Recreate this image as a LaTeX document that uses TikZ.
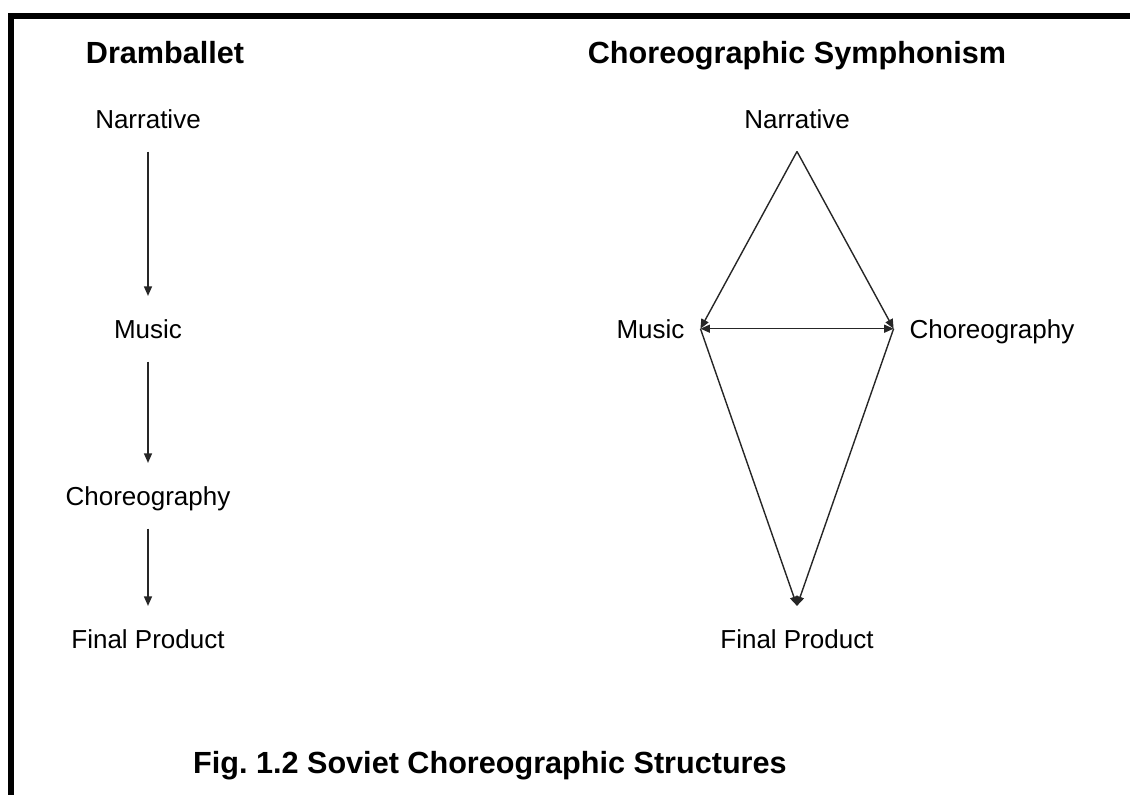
\documentclass[tikz,border=0pt]{standalone}
\usepackage{fontspec}
\setmainfont{Liberation Sans}
\usetikzlibrary{arrows.meta}
\frenchspacing
\tikzset{
  lbl/.style={font=\fontsize{26pt}{30pt}\selectfont, inner sep=0pt, text height=18.6pt, text depth=0pt, outer ysep=23.5pt, outer xsep=16pt, anchor=base},
  ttl/.style={font=\fontsize{30.6pt}{34pt}\selectfont\bfseries, inner sep=0pt, anchor=base},
  arr/.style={line width=1.4pt, draw=black!85, -{Triangle[length=9.5pt,width=8pt]}},
  darr/.style={line width=1.4pt, draw=black!85, {Triangle[length=9.5pt,width=8pt]}-{Triangle[length=9.5pt,width=8pt]}},
  frame/.style={fill=black}
}
\begin{document}
\begin{tikzpicture}[x=1pt,y=-1pt]
\useasboundingbox (0,0) rectangle (1130,795);
\fill[frame] (8,13) rectangle (1130,19);
\fill[frame] (8,13) rectangle (14,795);
% titles
\node[ttl] (tl) at (165,63) {Dramballet};
\node[ttl] (tr) at (797,63) {Choreographic Symphonism};
% left column
\node[lbl] (ln) at (148,128) {Narrative};
\node[lbl] (lm) at (148,338) {Music};
\node[lbl] (lc) at (148,505) {Choreography};
\node[lbl] (lf) at (148,648) {Final Product};
\draw[arr] (ln.south) -- (lm.north);
\draw[arr] (lm.south) -- (lc.north);
\draw[arr] (lc.south) -- (lf.north);
% right diamond
\node[lbl] (rn) at (797,128) {Narrative};
\node[lbl] (rm) at (650.5,338) {Music};
\node[lbl] (rc) at (992,338) {Choreography};
\node[lbl] (rf) at (797,648) {Final Product};
\draw[arr] (rn.south) -- (rm.east);
\draw[arr] (rn.south) -- (rc.west);
\draw[darr] (rm.east) -- (rc.west);
\draw[arr] (rm.east) -- (rf.north);
\draw[arr] (rc.west) -- (rf.north);
% caption
\node[ttl, anchor=base west] (cap) at (193,773) {Fig.\ 1.2 Soviet Choreographic Structures};
\end{tikzpicture}
\end{document}
